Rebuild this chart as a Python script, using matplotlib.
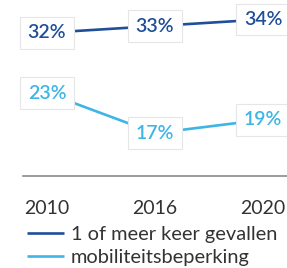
import matplotlib
matplotlib.use("Agg")
import matplotlib.pyplot as plt

years = ["2010", "2016", "2020"]
gevallen = [32, 33, 34]
mobiliteit = [23, 17, 19]
series_names = ["1 of meer keer gevallen", "mobiliteitsbeperking"]

dark = "#1f4f99"
light = "#3db5e6"

plt.rcParams['font.family'] = ['Lato', 'DejaVu Sans']

W, H = 287, 268
fig = plt.figure(figsize=(W / 100, H / 100), dpi=100)
ax = fig.add_axes([23 / W, (H - 176) / H, (W - 23) / W, 176 / H])

x = list(range(len(years)))
ax.plot(x, gevallen, color=dark, lw=1.9, label=series_names[0], solid_capstyle='butt')
ax.plot(x, mobiliteit, color=light, lw=1.9, label=series_names[1], solid_capstyle='butt')

for xs, vals, c in [(x, gevallen, dark), (x, mobiliteit, light)]:
    for xi, v in zip(xs, vals):
        ax.text(xi, v, f"{v}%", ha='center', va='center', color=c,
                fontsize=14, fontweight='semibold', zorder=5,
                bbox=dict(boxstyle='square,pad=0.38', fc='white', ec='#e6e6e6', lw=0.8))

ax.set_xlim(-24 / 108, 2 + 24 / 108)
ax.set_ylim(10.6, 36.9)
for s in ['top', 'left', 'right']:
    ax.spines[s].set_visible(False)
ax.spines['bottom'].set_color('#8a8a8a')
ax.spines['bottom'].set_linewidth(1.2)
ax.set_yticks([])
ax.set_xticks(x)
ax.set_xticklabels(years, fontsize=14, color='#333333')
ax.tick_params(axis='x', length=0, pad=17)

fig.legend(loc='upper left', bbox_to_anchor=(27 / W, (H - 226) / H), frameon=False,
           fontsize=14.4, handlelength=1.85, handletextpad=0.35, labelspacing=0.28,
           borderaxespad=0, borderpad=0, labelcolor='#333333')

fig.savefig("out.png", dpi=100, facecolor='white')
